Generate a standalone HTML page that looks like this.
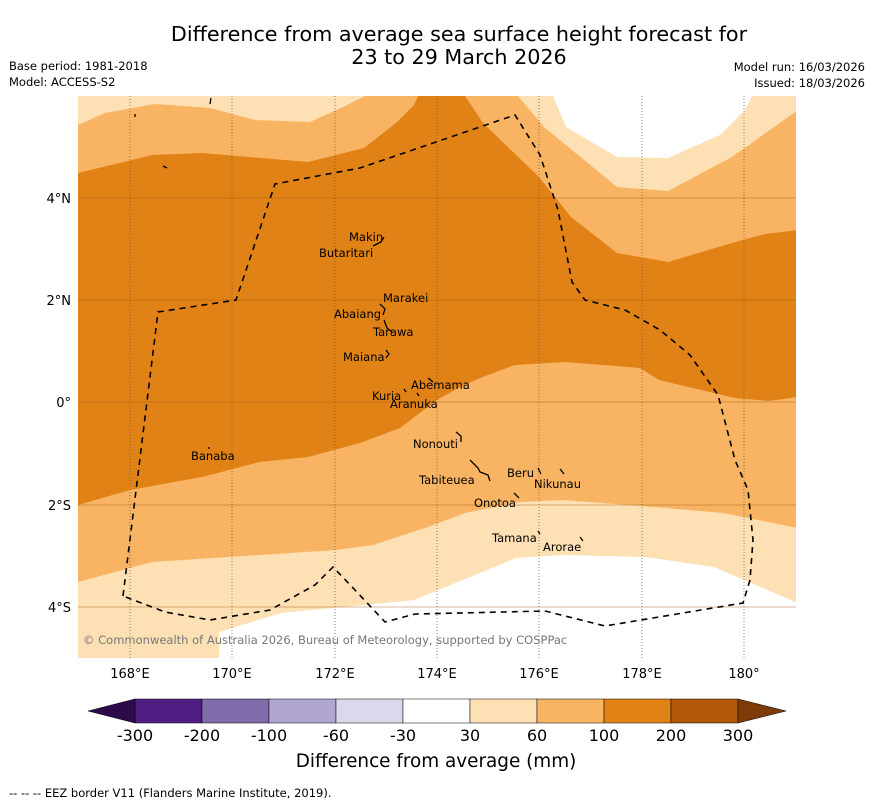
<!DOCTYPE html>
<html><head><meta charset="utf-8"><style>
body{margin:0;background:#fff;width:873px;height:804px;overflow:hidden;font-family:"DejaVu Sans","Liberation Sans",sans-serif}
svg{position:absolute;left:0;top:0}
</style></head><body>
<svg id="s" width="873" height="804" viewBox="0 0 873 804">
<text x="459" y="41" font-size="20.7" text-anchor="middle">Difference from average sea surface height forecast for</text>
<text x="459" y="64" font-size="20.7" text-anchor="middle">23 to 29 March 2026</text>
<text x="9" y="70" font-size="11.5">Base period: 1981-2018</text>
<text x="9" y="86" font-size="11.5">Model: ACCESS-S2</text>
<text x="865" y="71" font-size="11.5" text-anchor="end">Model run: 16/03/2026</text>
<text x="865" y="87" font-size="11.5" text-anchor="end">Issued: 18/03/2026</text>
<g>
<clipPath id="c"><rect x="78" y="96" width="718" height="562"/></clipPath>
<g clip-path="url(#c)">
<rect x="78" y="96" width="718" height="562" fill="#f8b462"/>
<path fill="#fde0b4" d="M78,96 L78,125 105,113 155,104 210,108 255,120 310,122 345,106 365,96 Z M518,96 L544,127 617,187 668,191 732,157 798,110 798,96 Z"/>
<path fill="#fff" d="M553,96 L566,127 617,157 668,158 720,135 745,110 752,96 Z"/>
<path fill="#fde0b4" d="M78,582 L152,562 336,550 373,545 428,527 465,513 520,502 562,500 654,507 723,513 798,528 798,660 78,660 Z"/>
<path fill="#fff" d="M219,660 L219,632 281,613 414,600 516,558 562,555 645,557 714,567 798,603 798,660 Z"/>
<path fill="#e08216" d="M78,173 L152,155 202,153 308,162 364,148 396,123 414,105 418,96 465,96 483,123 539,177 571,217 617,253 668,262 732,243 765,234 798,230 798,397 769,401 735,398 680,385 659,380 640,368 565,362 515,365 480,378 460,387 437,400 400,428 360,443 308,457 260,462 202,477 130,490 78,505 Z"/>
</g>
<g stroke="#555" stroke-width="0.7" fill="none" stroke-dasharray="1,2">
<path d="M130,96V658M232,96V658M335,96V658M437,96V658M539,96V658M642,96V658M744,96V658"/>
</g>
<g stroke="#a05a10" stroke-opacity="0.55" stroke-width="0.8">
<path d="M78,198H796M78,300H796M78,402H796M78,505H796M78,607H796"/>
</g>
<path fill="none" stroke="#000" stroke-width="1.6" stroke-dasharray="6,5" d="M123,596 L158,312 236,300 275,184 360,168 515,115 540,155 558,210 572,282 585,300 625,310 660,330 690,355 718,395 735,460 748,490 753,540 750,580 743,603 605,626 545,611 415,614 385,622 355,590 333,567 315,585 270,610 210,620 165,612 123,596"/>
<g stroke="#000" stroke-width="1.3" fill="none">
<path d="M373,246 l8,-4 3,-5 M380,304 l5,5 -2,6 M384,320 l3,8 5,4 M386,350 l3,4 -3,4 M428,378 l5,4 M456,432 l5,4 0,6 M470,460 l8,8 2,4 8,3 2,6 M538,468 l3,6 M560,469 l4,5 M514,493 l5,5 M538,531 l2,3 M580,537 l3,4 M404,389 l2,3 M417,393 l2,3 M209,447 l0,2 M135,114 l0,3 M211,98 l-1,6 M163,166 l4,2"/>
</g>
<g font-size="11.5" fill="#000">
<text x="349" y="241">Makin</text><text x="319" y="257">Butaritari</text>
<text x="383" y="302">Marakei</text><text x="334" y="318">Abaiang</text>
<text x="373" y="336">Tarawa</text><text x="343" y="361">Maiana</text>
<text x="411" y="389">Abemama</text><text x="372" y="400">Kuria</text>
<text x="390" y="408">Aranuka</text><text x="413" y="448">Nonouti</text>
<text x="191" y="460">Banaba</text><text x="507" y="477">Beru</text>
<text x="419" y="484">Tabiteuea</text><text x="534" y="488">Nikunau</text>
<text x="474" y="507">Onotoa</text><text x="492" y="542">Tamana</text>
<text x="543" y="551">Arorae</text>
</g>
<text x="83" y="644" font-size="11.5" fill="#777">© Commonwealth of Australia 2026, Bureau of Meteorology, supported by COSPPac</text>
<g font-size="13" text-anchor="end">
<text x="71" y="203">4°N</text><text x="71" y="305">2°N</text><text x="71" y="407">0°</text>
<text x="71" y="510">2°S</text><text x="71" y="612">4°S</text></g>
<g font-size="13" text-anchor="middle">
<text x="130" y="678">168°E</text><text x="232" y="678">170°E</text><text x="335" y="678">172°E</text>
<text x="437" y="678">174°E</text><text x="539" y="678">176°E</text><text x="642" y="678">178°E</text><text x="744" y="678">180°</text></g>
</g>
<g id="cb"></g>
<text x="436" y="767" font-size="18.4" text-anchor="middle">Difference from average (mm)</text>
<text x="9" y="797" font-size="11.5">--  --  -- EEZ border V11 (Flanders Marine Institute, 2019).</text>
</svg>
<script>
const levels=[-300,-200,-100,-60,-30,30,60,100,200,300];
const colors=['#4f1e82','#7f6eab','#b0a6d0','#d9d9eb','#ffffff','#fde0b4','#f8b462','#e08216','#b15908'];
const extColors=['#2d0a4a','#7f3b08'];
const NS='http://www.w3.org/2000/svg';
const g=document.getElementById('cb');
const x0=135,w=67,y0=699,h=24;
const cx=i=>x0+i*w;
function mk(t,a){const e=document.createElementNS(NS,t);for(const k in a)e.setAttribute(k,a[k]);g.appendChild(e);return e;}
colors.forEach((c,i)=>{
 const r=mk('rect',{x:cx(i),y:y0,width:w,height:h,fill:c,stroke:'#000','stroke-width':0.5});
 
 
});
const L=mk('polygon',{points:`${cx(0)},${y0} 88,${y0+h/2} ${cx(0)},${y0+h}`,fill:extColors[0],stroke:'#000','stroke-width':0.5});


const n=colors.length;
const R=mk('polygon',{points:`${cx(n)},${y0} 786,${y0+h/2} ${cx(n)},${y0+h}`,fill:extColors[1],stroke:'#000','stroke-width':0.5});


levels.forEach((v,i)=>{
 const t=mk('text',{x:cx(i),y:741,'font-size':16,'text-anchor':'middle'});
 t.textContent=v;
 
 
});
</script>
</body></html>
